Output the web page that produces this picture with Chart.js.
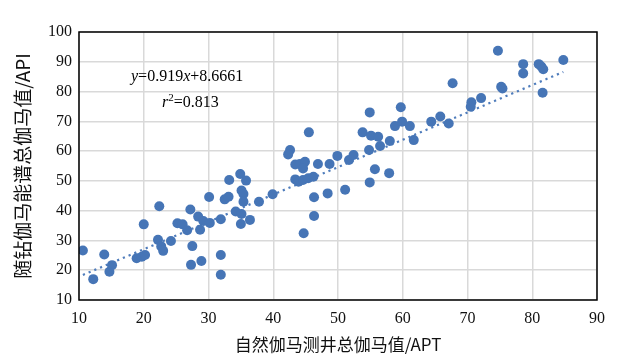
<!DOCTYPE html>
<html><head><meta charset="utf-8">
<script src="https://cdn.jsdelivr.net/npm/chart.js@4"></script>
<style>html,body{margin:0;padding:0;background:#fff}#wrap{width:622px;height:363px}</style>
</head><body><div id="wrap"><canvas id="c" width="622" height="363"></canvas></div>
<script>
// Natural gamma log total gamma (x) vs LWD gamma spectrum total gamma (y)
const xValues = [10.6,12.2,13.9,14.7,15.1,18.9,19.7,20.2,20.0,22.4,22.2,22.7,23.0,24.2,25.2,26.0,26.7,27.2,27.5,27.3,
  28.9,28.4,29.2,30.2,28.7,30.1,31.9,31.9,31.9,32.5,33.1,33.2,34.2,34.9,35.8,35.1,35.4,35.4,35.1,35.0,
  36.4,37.8,39.9,42.6,42.3,43.4,44.1,44.9,44.6,43.4,43.9,44.6,45.4,46.2,45.5,46.9,46.3,46.3,44.7,48.7,
  48.4,49.9,51.1,51.7,52.4,53.8,54.9,55.1,54.8,55.7,54.9,56.2,56.5,58.0,57.9,58.8,59.7,59.9,61.1,61.7,
  64.4,65.8,67.1,67.7,70.6,70.5,72.1,74.7,75.2,75.4,78.6,78.6,81.0,81.4,81.7,81.6,84.8];
const yValues = [26.6,17.0,25.3,19.5,21.7,24.0,24.5,25.1,35.4,41.5,30.2,28.0,26.5,29.8,35.8,35.4,33.4,40.4,28.1,21.8,
  23.1,38.0,36.5,35.9,33.6,44.6,37.1,25.1,18.5,43.8,44.7,50.3,39.7,52.3,50.1,46.8,45.6,43.0,38.9,35.5,
  36.9,43.0,45.5,60.4,58.9,55.5,55.7,56.4,54.2,50.5,49.7,50.3,50.9,51.4,66.3,55.7,44.5,38.2,32.4,55.7,
  45.8,58.4,47.0,57.0,58.7,66.3,73.0,65.2,60.4,53.9,49.5,64.8,61.7,63.4,52.6,68.4,74.7,69.9,68.4,63.7,
  69.9,71.6,69.3,82.8,76.4,74.9,77.8,93.7,81.6,81.0,89.2,86.1,89.2,88.4,87.5,79.6,90.6];
const xTicks = [10,20,30,40,50,60,70,80,90];
const yTicks = [10,20,30,40,50,60,70,80,90,100];
const slope = 0.919;
const intercept = 8.6661;
const rSquared = 0.813;
const xTitle = '自然伽马测井总伽马值/APT';
const yTitle = '随钻伽马能谱总伽马值/API';

const points = xValues.map((x, i) => ({x, y: yValues[i]}));
const xmin = Math.min(...xValues), xmax = Math.max(...xValues);
const trend = [xmin, xmax].map(x => ({x, y: slope * x + intercept}));

const blue = 'rgb(70,117,182)';
const serif = '"Liberation Serif","DejaVu Serif",serif';
const cjk = '"Noto Sans CJK SC","Noto Sans CJK JP",sans-serif';

const frame = {
  id: 'frame',
  afterDatasetsDraw(chart) {
    const {ctx, chartArea: a} = chart;
    ctx.save();
    ctx.strokeStyle = '#000';
    ctx.lineWidth = 1.5;
    ctx.strokeRect(a.left, a.top, a.right - a.left, a.bottom - a.top);
    // equation text
    ctx.fillStyle = '#000';
    ctx.textBaseline = 'middle';
    const segs = [
      ['y', true], ['=0.919', false], ['x', true], ['+8.6661', false]
    ];
    let x = a.left + 52, y = a.top + 45;
    for (const [t, it] of segs) {
      ctx.font = (it ? 'italic ' : '') + '16px ' + serif;
      ctx.fillText(t, x, y);
      x += ctx.measureText(t).width;
    }
    x = a.left + 83; y = a.top + 71;
    ctx.font = 'italic 16px ' + serif;
    ctx.fillText('r', x, y); x += ctx.measureText('r').width;
    ctx.font = '11px ' + serif;
    ctx.fillText('2', x, y - 5); x += ctx.measureText('2').width;
    ctx.font = '16px ' + serif;
    ctx.fillText('=' + rSquared.toFixed(3), x, y);
    ctx.restore();
  }
};

new Chart(document.getElementById('c'), {
  type: 'scatter',
  data: {
    datasets: [
      {
        data: points,
        backgroundColor: blue,
        borderColor: blue,
        pointRadius: 5,
        pointBorderWidth: 0,
        order: 1
      },
      {
        type: 'line',
        data: trend,
        borderColor: 'rgb(80,125,188)',
        borderWidth: 2.2,
        borderDash: [2.2, 4],
        pointRadius: 0,
        fill: false,
        order: 2
      }
    ]
  },
  options: {
    responsive: false,
    devicePixelRatio: 1,
    animation: false,
    layout: {padding: {top: 32, right: 25, left: 0, bottom: 0}},
    plugins: {legend: {display: false}, tooltip: {enabled: false}},
    scales: {
      x: {
        type: 'linear', min: 10, max: 90,
        afterBuildTicks: s => { s.ticks = xTicks.map(v => ({value: v})); },
        afterFit: s => { s.height = 63; },
        grid: {color: '#d9d9d9', lineWidth: 1.5, drawTicks: false},
        border: {display: false},
        ticks: {color: '#111', padding: 9, font: {family: serif, size: 16}, maxRotation: 0},
        title: {display: true, text: xTitle, color: '#111', font: {family: cjk, size: 17}, padding: {top: 0, bottom: 8}}
      },
      y: {
        type: 'linear', min: 10, max: 100,
        afterBuildTicks: s => { s.ticks = yTicks.map(v => ({value: v})); },
        afterFit: s => { s.width = 79; },
        grid: {color: '#d9d9d9', lineWidth: 1.5, drawTicks: false},
        border: {display: false},
        ticks: {color: '#111', padding: 7, font: {family: serif, size: 16}},
        title: {display: true, text: yTitle, color: '#111', font: {family: cjk, size: 19}, padding: {top: 11, bottom: 0}}
      }
    }
  },
  plugins: [frame]
});
</script>
</body></html>
